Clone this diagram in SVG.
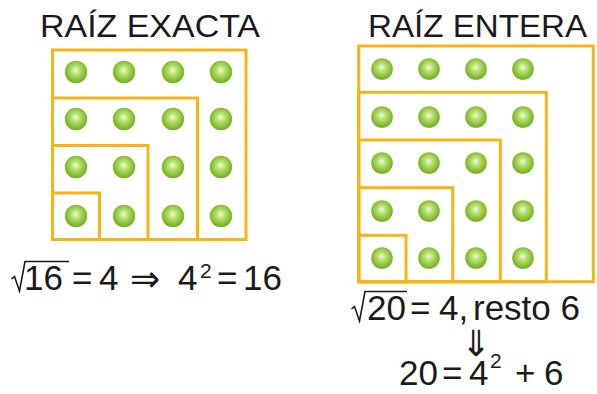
<svg xmlns="http://www.w3.org/2000/svg" width="597" height="394" viewBox="0 0 597 394">
<defs>
  <radialGradient id="gball" cx="0.5" cy="0.45" r="0.55" fx="0.48" fy="0.42">
    <stop offset="0" stop-color="#f4fbe4"/>
    <stop offset="0.3" stop-color="#c2e27f"/>
    <stop offset="0.7" stop-color="#8cc63a"/>
    <stop offset="1" stop-color="#72ab24"/>
  </radialGradient>
  <symbol id="ballL" overflow="visible"><circle cx="0" cy="0" r="11.2" fill="url(#gball)"/></symbol>
  <symbol id="ballR" overflow="visible"><circle cx="0" cy="0" r="10.8" fill="url(#gball)"/></symbol>
</defs>
<style>
  .box { fill: none; stroke: #f6b417; stroke-width: 3; }
  .t { font-family: "Liberation Sans", Arial, sans-serif; fill: #1a1a1a; }
  .title { font-size: 32px; }
  .eq { font-size: 35px; }
  .sup { font-size: 21px; }
  .sym { font-family: "DejaVu Sans", sans-serif; fill: #1a1a1a; }
  .rad { fill: none; stroke: #1a1a1a; stroke-width: 1.6; stroke-linejoin: miter; }
</style>
<rect width="597" height="394" fill="#ffffff"/>

<g id="exacta">
  <text class="t title" x="40" y="37" textLength="220" lengthAdjust="spacingAndGlyphs">RAÍZ EXACTA</text>
  <rect class="box" x="52.5" y="50" width="193.5" height="189.5"/>
  <rect class="box" x="52.5" y="98" width="145" height="141.5"/>
  <rect class="box" x="52.5" y="145.5" width="95.5" height="94"/>
  <rect class="box" x="52.5" y="193" width="47" height="46.5"/>
  <g>
    <use href="#ballL" x="76" y="72"/><use href="#ballL" x="124" y="72"/><use href="#ballL" x="173" y="72"/><use href="#ballL" x="221" y="72"/>
    <use href="#ballL" x="76" y="119"/><use href="#ballL" x="124" y="119"/><use href="#ballL" x="173" y="119"/><use href="#ballL" x="221" y="119"/>
    <use href="#ballL" x="76" y="167"/><use href="#ballL" x="124" y="167"/><use href="#ballL" x="173" y="167"/><use href="#ballL" x="221" y="167"/>
    <use href="#ballL" x="76" y="216"/><use href="#ballL" x="124" y="216"/><use href="#ballL" x="173" y="216"/><use href="#ballL" x="221" y="216"/>
  </g>
  <g id="formula-exacta">
    <path class="rad" d="M11.5,279 L14.5,276.5 L19.5,291 L25,261.5 L69,261.5"/>
    <text class="t eq" x="24" y="290">16</text>
    <text class="t eq" x="72" y="290">=</text>
    <text class="t eq" x="99" y="290">4</text>
    <text class="sym" x="130" y="291" font-size="36">⇒</text>
    <text class="t eq" x="178" y="290">4</text>
    <text class="t sup" x="200" y="278">2</text>
    <text class="t eq" x="217" y="290">=</text>
    <text class="t eq" x="243" y="290">16</text>
  </g>
</g>

<g id="entera">
  <text class="t title" x="368" y="37" textLength="219" lengthAdjust="spacingAndGlyphs">RAÍZ ENTERA</text>
  <rect class="box" x="358.7" y="46" width="234.6" height="235.7"/>
  <rect class="box" x="358.7" y="92.3" width="187.6" height="189.4"/>
  <rect class="box" x="358.7" y="140" width="141.6" height="141.7"/>
  <rect class="box" x="358.7" y="187.7" width="94" height="94"/>
  <rect class="box" x="358.7" y="235.3" width="47.3" height="46.4"/>
  <g>
    <use href="#ballR" x="382" y="69"/><use href="#ballR" x="429" y="69"/><use href="#ballR" x="476" y="69"/><use href="#ballR" x="523" y="69"/>
    <use href="#ballR" x="382" y="117"/><use href="#ballR" x="429" y="117"/><use href="#ballR" x="476" y="117"/><use href="#ballR" x="523" y="117"/>
    <use href="#ballR" x="382" y="163"/><use href="#ballR" x="429" y="163"/><use href="#ballR" x="476" y="163"/><use href="#ballR" x="523" y="163"/>
    <use href="#ballR" x="382" y="211"/><use href="#ballR" x="429" y="211"/><use href="#ballR" x="476" y="211"/><use href="#ballR" x="523" y="211"/>
    <use href="#ballR" x="382" y="258"/><use href="#ballR" x="429" y="258"/><use href="#ballR" x="476" y="258"/><use href="#ballR" x="523" y="258"/>
  </g>
  <g id="formula-entera">
    <path class="rad" d="M351.5,309 L354.5,306.5 L359.5,321 L365,291.5 L407,291.5"/>
    <text class="t eq" x="367" y="320">20</text>
    <text class="t eq" x="410" y="320">=</text>
    <text class="t eq" x="439" y="320">4,</text>
    <text class="t eq" x="473" y="320">resto 6</text>
    <text class="sym" x="476" y="356" font-size="36" text-anchor="middle">⇓</text>
    <text class="t eq" x="399" y="385">20</text>
    <text class="t eq" x="442" y="385">=</text>
    <text class="t eq" x="469" y="385">4</text>
    <text class="t sup" x="490" y="368">2</text>
    <text class="t eq" x="515" y="385">+</text>
    <text class="t eq" x="544" y="385">6</text>
  </g>
</g>
</svg>
